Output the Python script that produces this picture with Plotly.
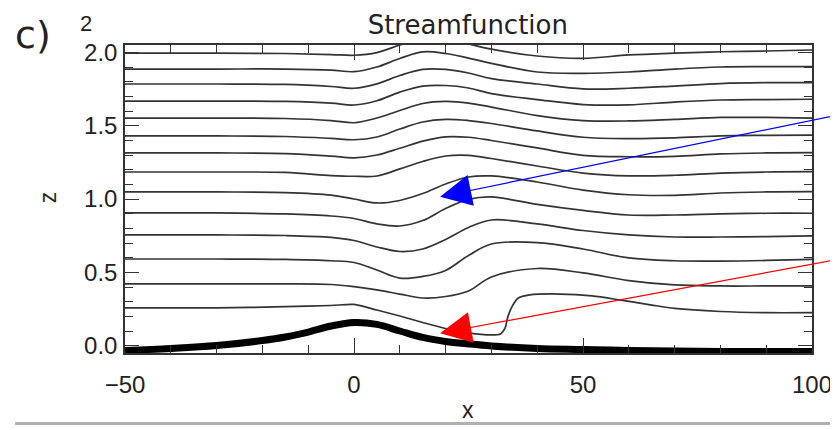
import plotly.graph_objects as go

# ---------------- data ----------------
x_grid = [-50, -30, -15, -5, 0, 5, 10, 15, 20, 25, 30, 40, 50, 60, 70, 80, 90, 100]

z_line_01 = [1.995, 1.995, 1.992, 1.985, 1.980, 1.998, 2.050, 2.095, 2.100, 2.058, 2.022, 1.975, 1.959, 1.982, 1.995, 2.004, 2.009, 2.016]
z_line_02 = [1.886, 1.886, 1.886, 1.879, 1.868, 1.900, 1.958, 2.003, 1.992, 1.961, 1.925, 1.866, 1.857, 1.866, 1.886, 1.900, 1.902, 1.902]
z_line_03 = [1.784, 1.784, 1.781, 1.767, 1.755, 1.785, 1.842, 1.884, 1.884, 1.859, 1.821, 1.784, 1.751, 1.755, 1.770, 1.787, 1.793, 1.793]
z_line_04 = [1.668, 1.668, 1.665, 1.654, 1.641, 1.670, 1.729, 1.770, 1.774, 1.757, 1.719, 1.678, 1.644, 1.642, 1.661, 1.675, 1.678, 1.680]
z_line_05 = [1.552, 1.552, 1.549, 1.535, 1.520, 1.552, 1.603, 1.651, 1.665, 1.654, 1.627, 1.569, 1.535, 1.532, 1.543, 1.556, 1.556, 1.552]
z_line_06 = [1.430, 1.430, 1.426, 1.413, 1.404, 1.423, 1.477, 1.525, 1.543, 1.535, 1.515, 1.464, 1.421, 1.412, 1.417, 1.430, 1.434, 1.436]
z_line_07 = [1.314, 1.314, 1.310, 1.293, 1.281, 1.300, 1.346, 1.395, 1.424, 1.421, 1.399, 1.348, 1.298, 1.288, 1.291, 1.307, 1.314, 1.316]
z_line_08 = [1.184, 1.184, 1.181, 1.160, 1.155, 1.157, 1.205, 1.256, 1.293, 1.298, 1.276, 1.225, 1.177, 1.158, 1.162, 1.177, 1.184, 1.186]
z_line_09 = [1.048, 1.048, 1.044, 1.027, 1.000, 0.973, 0.990, 1.037, 1.102, 1.150, 1.157, 1.116, 1.061, 1.029, 1.025, 1.041, 1.048, 1.050]
z_line_10 = [0.905, 0.905, 0.898, 0.884, 0.867, 0.830, 0.816, 0.853, 0.935, 0.997, 1.014, 0.963, 0.922, 0.891, 0.891, 0.898, 0.903, 0.903]
z_line_11 = [0.755, 0.755, 0.751, 0.738, 0.717, 0.673, 0.642, 0.659, 0.724, 0.806, 0.857, 0.830, 0.785, 0.755, 0.741, 0.741, 0.744, 0.748]
z_line_12 = [0.591, 0.591, 0.588, 0.579, 0.567, 0.516, 0.461, 0.472, 0.513, 0.615, 0.693, 0.703, 0.659, 0.598, 0.579, 0.577, 0.581, 0.589]
z_line_13 = [0.421, 0.421, 0.421, 0.417, 0.402, 0.380, 0.352, 0.325, 0.335, 0.373, 0.468, 0.526, 0.496, 0.444, 0.414, 0.407, 0.407, 0.407]

x_line_14 = [-50, -30, -15, -5, 0, 5, 10, 15, 20, 25, 30, 32, 33, 33.6, 34.5, 35.8, 38.4, 45, 52, 58, 65, 70, 80, 90, 100]
z_line_14 = [0.257, 0.257, 0.266, 0.274, 0.281, 0.243, 0.202, 0.158, 0.117, 0.087, 0.073, 0.080, 0.121, 0.198, 0.266, 0.323, 0.346, 0.352, 0.339, 0.312, 0.277, 0.254, 0.233, 0.225, 0.225]

x_terrain = [-50, -40, -30, -20, -15, -10, -5, 0, 5, 10, 15, 20, 25, 30, 40, 50, 60, 70, 80, 90, 100]
z_terrain = [-0.033, -0.019, 0.001, 0.035, 0.059, 0.093, 0.134, 0.158, 0.145, 0.100, 0.056, 0.029, 0.012, -0.002, -0.019, -0.026, -0.033, -0.036, -0.040, -0.040, -0.040]

# arrows: (tip x, tip z, tail x, tail z)
blue_arrow = [18.8, 1.016, 105.7, 1.573]
red_arrow = [18.8, 0.085, 105.7, 0.589]

x_tickvals = [-50, 0, 50, 100]
x_ticktext = ["\u221250", "0", "50", "100"]
z_tickvals = [0.0, 0.5, 1.0, 1.5, 2.0]
z_ticktext = ["0.0", "0.5", "1.0", "1.5", "2.0"]

# ---------------- figure ----------------
lines_z = [z_line_01, z_line_02, z_line_03, z_line_04, z_line_05, z_line_06, z_line_07,
           z_line_08, z_line_09, z_line_10, z_line_11, z_line_12, z_line_13]

fig = go.Figure()
for zl in lines_z:
    fig.add_trace(go.Scatter(x=x_grid, y=zl, mode="lines",
                             line=dict(color="#333333", width=1.7, shape="spline", smoothing=1.0),
                             hoverinfo="skip", showlegend=False))
fig.add_trace(go.Scatter(x=x_line_14, y=z_line_14, mode="lines",
                         line=dict(color="#333333", width=1.7, shape="spline", smoothing=0.7),
                         hoverinfo="skip", showlegend=False))
fig.add_trace(go.Scatter(x=x_terrain, y=z_terrain, mode="lines",
                         line=dict(color="#000000", width=7, shape="spline", smoothing=1.0),
                         hoverinfo="skip", showlegend=False))

tick_font = dict(family="Liberation Sans, Arial, sans-serif", size=24, color="#222222")

# the page body adds an 8 px offset, so margins are shifted by 8 px
fig.update_layout(
    width=838, height=430,
    margin=dict(l=117, r=34, t=37, b=85),
    paper_bgcolor="white", plot_bgcolor="white",
    showlegend=False,
    title=dict(text="Streamfunction", x=0.499, xref="paper", y=1 - 17 / 430, yref="container",
               xanchor="center", yanchor="middle",
               font=dict(family="DejaVu Sans, sans-serif", size=26, color="#222222")),
    xaxis=dict(range=[-50, 100], showgrid=False, zeroline=False,
               showline=True, linecolor="#333333", linewidth=1.5, mirror="ticks",
               ticks="inside", ticklen=15, tickwidth=1.3, tickcolor="#333333",
               tickvals=x_tickvals, ticktext=x_ticktext, tickfont=tick_font,
               ticklabelstandoff=9,
               minor=dict(dtick=10, tick0=0, ticks="inside", ticklen=8, tickwidth=1.2,
                          tickcolor="#333333", showgrid=False)),
    yaxis=dict(range=[-0.05, 2.05], showgrid=False, zeroline=False,
               showline=True, linecolor="#333333", linewidth=1.5, mirror="ticks",
               ticks="inside", ticklen=14, tickwidth=1.3, tickcolor="#333333",
               tickvals=z_tickvals, ticktext=z_ticktext, tickfont=tick_font,
               ticklabelstandoff=1,
               minor=dict(dtick=0.1, tick0=0, ticks="inside", ticklen=8, tickwidth=1.2,
                          tickcolor="#333333", showgrid=False)),
)

arrow_common = dict(xref="x", yref="y", axref="x", ayref="y", text="", showarrow=True,
                    arrowhead=2, arrowsize=5.2, arrowwidth=1.2)
fig.add_annotation(x=blue_arrow[0], y=blue_arrow[1], ax=blue_arrow[2], ay=blue_arrow[3],
                   arrowcolor="#0000ff", **arrow_common)
fig.add_annotation(x=red_arrow[0], y=red_arrow[1], ax=red_arrow[2], ay=red_arrow[3],
                   arrowcolor="#ff0000", **arrow_common)

label_font = dict(family="Liberation Sans, Arial, sans-serif", size=23, color="#222222")
fig.add_annotation(text="x", xref="paper", yref="paper", x=0.499, y=-0.185,
                   xanchor="center", yanchor="middle", showarrow=False, font=label_font)
fig.add_annotation(text="z", xref="paper", yref="paper", x=-0.112, y=0.506, textangle=-90,
                   xanchor="center", yanchor="middle", showarrow=False, font=label_font)
fig.add_annotation(text="c)", xref="paper", yref="paper", x=-0.134, y=1.032,
                   xanchor="center", yanchor="middle", showarrow=False,
                   font=dict(family="DejaVu Sans, sans-serif", size=38, color="#222222"))
fig.add_annotation(text="2", xref="paper", yref="paper", x=-0.057, y=1.071,
                   xanchor="center", yanchor="middle", showarrow=False,
                   font=dict(family="Liberation Sans, Arial, sans-serif", size=22, color="#222222"))

fig.add_shape(type="line", xref="paper", yref="paper", x0=-0.16, x1=1.04, y0=-0.229, y1=-0.229,
              line=dict(color="#b0b0b0", width=3))

fig.write_html("out.html")
